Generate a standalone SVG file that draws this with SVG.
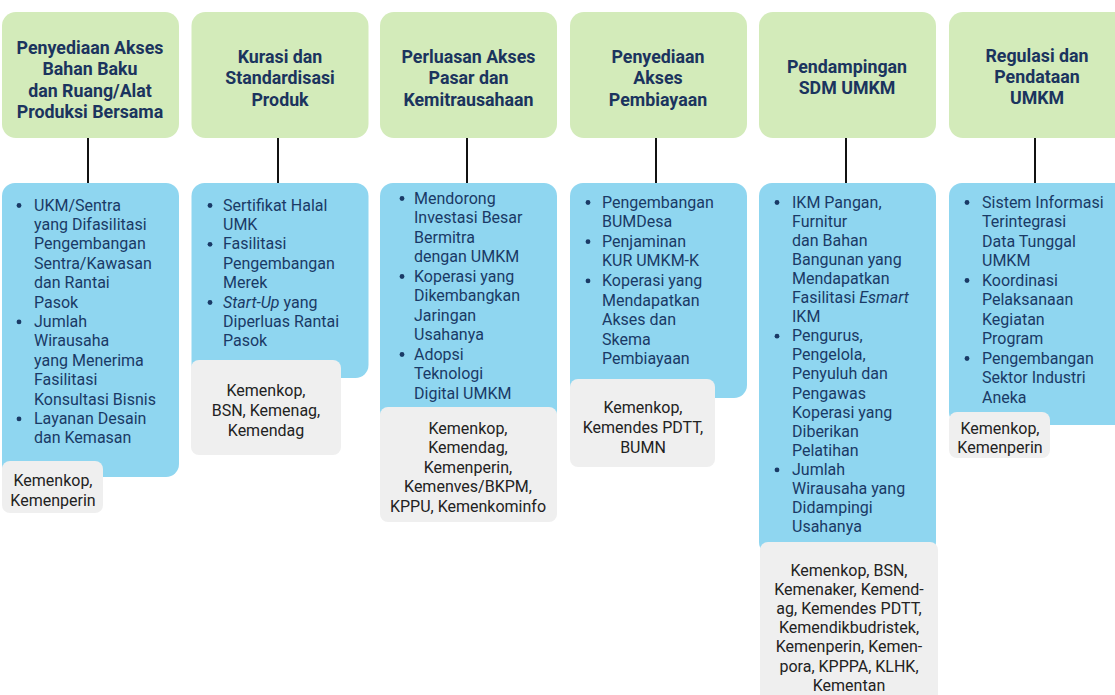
<svg xmlns="http://www.w3.org/2000/svg" width="1115" height="695" viewBox="0 0 1115 695">
<style>
.hd{fill:#d3ebba}
.bl{fill:#8fd6f0}
.gr{fill:#efefef}
.ht{font-family:Roboto,"Liberation Sans",sans-serif;font-weight:bold;font-size:17.8px;fill:#1b345e;text-anchor:middle}
.bt{font-family:Roboto,"Liberation Sans",sans-serif;font-size:16px;fill:#1a3a66}
.gt{font-family:Roboto,"Liberation Sans",sans-serif;font-size:16px;fill:#222;text-anchor:middle}
.bu{fill:#1a3a66}
.cn{stroke:#111;stroke-width:2}
</style>
<rect width="1115" height="695" fill="#fff"/>
<g id="connectors">
<line class="cn" x1="88" y1="138" x2="88" y2="183"/>
<line class="cn" x1="278" y1="138" x2="278" y2="183"/>
<line class="cn" x1="467" y1="138" x2="467" y2="183"/>
<line class="cn" x1="656" y1="138" x2="656" y2="183"/>
<line class="cn" x1="846" y1="138" x2="846" y2="183"/>
<line class="cn" x1="1035" y1="138" x2="1035" y2="183"/>
</g>
<g id="h1"><rect class="hd" x="2" y="12" width="177" height="126" rx="14"/>
<text class="ht" x="90"><tspan x="90" y="54">Penyediaan Akses</tspan><tspan x="90" y="75.3">Bahan Baku</tspan><tspan x="90" y="96.6">dan Ruang/Alat</tspan><tspan x="90" y="118">Produksi Bersama</tspan></text></g>
<g id="h2"><rect class="hd" x="191.5" y="12" width="177" height="126" rx="14"/>
<text class="ht"><tspan x="280" y="63">Kurasi dan</tspan><tspan x="280" y="84.3">Standardisasi</tspan><tspan x="280" y="105.6">Produk</tspan></text></g>
<g id="h3"><rect class="hd" x="380" y="12" width="177" height="126" rx="14"/>
<text class="ht"><tspan x="468.5" y="63">Perluasan Akses</tspan><tspan x="468.5" y="84.3">Pasar dan</tspan><tspan x="468.5" y="105.6">Kemitrausahaan</tspan></text></g>
<g id="h4"><rect class="hd" x="570" y="12" width="177" height="126" rx="14"/>
<text class="ht"><tspan x="658" y="63">Penyediaan</tspan><tspan x="658" y="84.3">Akses</tspan><tspan x="658" y="105.6">Pembiayaan</tspan></text></g>
<g id="h5"><rect class="hd" x="759" y="12" width="177" height="126" rx="14"/>
<text class="ht"><tspan x="847" y="73">Pendampingan</tspan><tspan x="847" y="94.3">SDM UMKM</tspan></text></g>
<g id="h6"><rect class="hd" x="949" y="12" width="180" height="126" rx="14"/>
<text class="ht"><tspan x="1037" y="61.5">Regulasi dan</tspan><tspan x="1037" y="82.8">Pendataan</tspan><tspan x="1037" y="104.1">UMKM</tspan></text></g>

<g id="b1"><rect class="bl" x="2" y="183" width="177" height="294" rx="13"/>
<circle class="bu" cx="19" cy="205.5" r="2.4"/><circle class="bu" cx="19" cy="321.9" r="2.4"/><circle class="bu" cx="19" cy="418.9" r="2.4"/>
<text class="bt"><tspan x="34" y="210.5">UKM/Sentra</tspan><tspan x="34" dy="19.4">yang Difasilitasi</tspan><tspan x="34" dy="19.4">Pengembangan</tspan><tspan x="34" dy="19.4">Sentra/Kawasan</tspan><tspan x="34" dy="19.4">dan Rantai</tspan><tspan x="34" dy="19.4">Pasok</tspan><tspan x="34" dy="19.4">Jumlah</tspan><tspan x="34" dy="19.4">Wirausaha</tspan><tspan x="34" dy="19.4">yang Menerima</tspan><tspan x="34" dy="19.4">Fasilitasi</tspan><tspan x="34" dy="19.4">Konsultasi Bisnis</tspan><tspan x="34" dy="19.4">Layanan Desain</tspan><tspan x="34" dy="19.4">dan Kemasan</tspan></text></g>
<g id="g1"><rect class="gr" x="2" y="461" width="101" height="52" rx="8"/>
<text class="gt"><tspan x="53" y="485.5">Kemenkop,</tspan><tspan x="53" y="505.5">Kemenperin</tspan></text></g>

<g id="b2"><rect class="bl" x="191.5" y="183" width="177" height="195" rx="13"/>
<circle class="bu" cx="210" cy="205.5" r="2.4"/><circle class="bu" cx="210" cy="244.3" r="2.4"/><circle class="bu" cx="210" cy="302.5" r="2.4"/>
<text class="bt"><tspan x="223" y="210.5">Sertifikat Halal</tspan><tspan x="223" dy="19.4">UMK</tspan><tspan x="223" dy="19.4">Fasilitasi</tspan><tspan x="223" dy="19.4">Pengembangan</tspan><tspan x="223" dy="19.4">Merek</tspan><tspan x="223" dy="19.4"><tspan font-style="italic">Start-Up</tspan> yang</tspan><tspan x="223" dy="19.4">Diperluas Rantai</tspan><tspan x="223" dy="19.4">Pasok</tspan></text></g>
<g id="g2"><rect class="gr" x="191" y="360" width="150" height="95" rx="8"/>
<text class="gt"><tspan x="266" y="395.5">Kemenkop,</tspan><tspan x="266" y="415.5">BSN, Kemenag,</tspan><tspan x="266" y="435.5">Kemendag</tspan></text></g>

<g id="b3"><rect class="bl" x="380" y="183" width="177" height="240" rx="13"/>
<circle class="bu" cx="402" cy="198.5" r="2.4"/><circle class="bu" cx="402" cy="276.5" r="2.4"/><circle class="bu" cx="402" cy="354.5" r="2.4"/>
<text class="bt"><tspan x="414" y="203.5">Mendorong</tspan><tspan x="414" dy="19.5">Investasi Besar</tspan><tspan x="414" dy="19.5">Bermitra</tspan><tspan x="414" dy="19.5">dengan UMKM</tspan><tspan x="414" dy="19.5">Koperasi yang</tspan><tspan x="414" dy="19.5">Dikembangkan</tspan><tspan x="414" dy="19.5">Jaringan</tspan><tspan x="414" dy="19.5">Usahanya</tspan><tspan x="414" dy="19.5">Adopsi</tspan><tspan x="414" dy="19.5">Teknologi</tspan><tspan x="414" dy="19.5">Digital UMKM</tspan></text></g>
<g id="g3"><rect class="gr" x="380" y="407" width="177" height="115" rx="8"/>
<text class="gt"><tspan x="468" y="433.5">Kemenkop,</tspan><tspan x="468" dy="19.5">Kemendag,</tspan><tspan x="468" dy="19.5">Kemenperin,</tspan><tspan x="468" dy="19.5">Kemenves/BKPM,</tspan><tspan x="468" dy="19.5">KPPU, Kemenkominfo</tspan></text></g>

<g id="b4"><rect class="bl" x="570" y="183" width="177" height="215" rx="13"/>
<circle class="bu" cx="588" cy="202.5" r="2.4"/><circle class="bu" cx="588" cy="241.7" r="2.4"/><circle class="bu" cx="588" cy="280.9" r="2.4"/>
<text class="bt"><tspan x="602" y="207.5">Pengembangan</tspan><tspan x="602" dy="19.6">BUMDesa</tspan><tspan x="602" dy="19.6">Penjaminan</tspan><tspan x="602" dy="19.6">KUR UMKM-K</tspan><tspan x="602" dy="19.6">Koperasi yang</tspan><tspan x="602" dy="19.6">Mendapatkan</tspan><tspan x="602" dy="19.6">Akses dan</tspan><tspan x="602" dy="19.6">Skema</tspan><tspan x="602" dy="19.6">Pembiayaan</tspan></text></g>
<g id="g4"><rect class="gr" x="570" y="379" width="145" height="88" rx="8"/>
<text class="gt"><tspan x="643" y="412.5">Kemenkop,</tspan><tspan x="643" y="432.5">Kemendes PDTT,</tspan><tspan x="643" y="452.5">BUMN</tspan></text></g>

<g id="b5"><rect class="bl" x="759" y="183" width="177" height="372" rx="13"/>
<circle class="bu" cx="777" cy="202.5" r="2.4"/><circle class="bu" cx="777" cy="336.2" r="2.4"/><circle class="bu" cx="777" cy="469.9" r="2.4"/>
<text class="bt"><tspan x="792" y="207.5">IKM Pangan,</tspan><tspan x="792" dy="19.1">Furnitur</tspan><tspan x="792" dy="19.1">dan Bahan</tspan><tspan x="792" dy="19.1">Bangunan yang</tspan><tspan x="792" dy="19.1">Mendapatkan</tspan><tspan x="792" dy="19.1">Fasilitasi <tspan font-style="italic">Esmart</tspan></tspan><tspan x="792" dy="19.1">IKM</tspan><tspan x="792" dy="19.1">Pengurus,</tspan><tspan x="792" dy="19.1">Pengelola,</tspan><tspan x="792" dy="19.1">Penyuluh dan</tspan><tspan x="792" dy="19.1">Pengawas</tspan><tspan x="792" dy="19.1">Koperasi yang</tspan><tspan x="792" dy="19.1">Diberikan</tspan><tspan x="792" dy="19.1">Pelatihan</tspan><tspan x="792" dy="19.1">Jumlah</tspan><tspan x="792" dy="19.1">Wirausaha yang</tspan><tspan x="792" dy="19.1">Didampingi</tspan><tspan x="792" dy="19.1">Usahanya</tspan></text></g>
<g id="g5"><rect class="gr" x="760" y="542" width="178" height="165" rx="8"/>
<text class="gt"><tspan x="849" y="575.5">Kemenkop, BSN,</tspan><tspan x="849" dy="19.2">Kemenaker, Kemend-</tspan><tspan x="849" dy="19.2">ag, Kemendes PDTT,</tspan><tspan x="849" dy="19.2">Kemendikbudristek,</tspan><tspan x="849" dy="19.2">Kemenperin, Kemen-</tspan><tspan x="849" dy="19.2">pora, KPPPA, KLHK,</tspan><tspan x="849" dy="19.2">Kementan</tspan></text></g>

<g id="b6"><rect class="bl" x="949" y="183" width="180" height="242" rx="13"/>
<circle class="bu" cx="967" cy="202.5" r="2.4"/><circle class="bu" cx="967" cy="280.5" r="2.4"/><circle class="bu" cx="967" cy="358.5" r="2.4"/>
<text class="bt"><tspan x="982" y="207.5">Sistem Informasi</tspan><tspan x="982" dy="19.5">Terintegrasi</tspan><tspan x="982" dy="19.5">Data Tunggal</tspan><tspan x="982" dy="19.5">UMKM</tspan><tspan x="982" dy="19.5">Koordinasi</tspan><tspan x="982" dy="19.5">Pelaksanaan</tspan><tspan x="982" dy="19.5">Kegiatan</tspan><tspan x="982" dy="19.5">Program</tspan><tspan x="982" dy="19.5">Pengembangan</tspan><tspan x="982" dy="19.5">Sektor Industri</tspan><tspan x="982" dy="19.5">Aneka</tspan></text></g>
<g id="g6"><rect class="gr" x="949" y="412" width="101" height="46" rx="8"/>
<text class="gt"><tspan x="1000" y="433.5">Kemenkop,</tspan><tspan x="1000" y="452.5">Kemenperin</tspan></text></g>
</svg>
